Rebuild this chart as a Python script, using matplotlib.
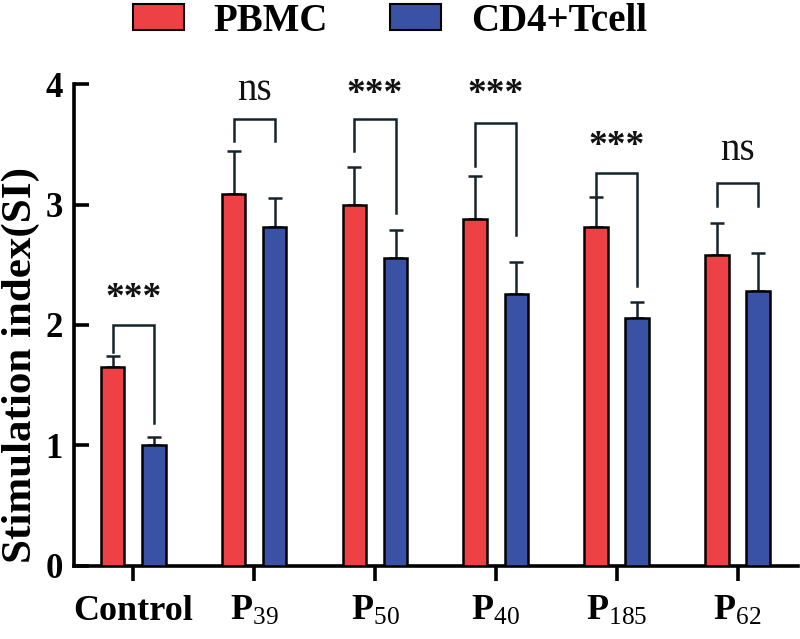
import matplotlib
matplotlib.use("Agg")
import matplotlib.pyplot as plt
import numpy as np
from matplotlib.patches import Patch

plt.rcParams['font.family'] = ['Liberation Serif', 'DejaVu Serif']
plt.rcParams['mathtext.fontset'] = 'custom'
plt.rcParams['mathtext.rm'] = 'Liberation Serif'
plt.rcParams['mathtext.bf'] = 'Liberation Serif:bold'
plt.rcParams['mathtext.it'] = 'Liberation Serif:italic'

# ---- data ----
categories = ['Control', r'$\mathbf{P}_{\mathrm{39}}$', r'$\mathbf{P}_{\mathrm{50}}$',
              r'$\mathbf{P}_{\mathrm{40}}$', r'$\mathbf{P}_{\mathrm{185}}$', r'$\mathbf{P}_{\mathrm{62}}$']
pbmc = [1.65, 3.09, 3.00, 2.88, 2.81, 2.58]
pbmc_err = [0.09, 0.35, 0.31, 0.36, 0.25, 0.27]
cd4 = [1.00, 2.81, 2.56, 2.26, 2.06, 2.28]
cd4_err = [0.07, 0.24, 0.23, 0.26, 0.13, 0.32]
sig_labels = ['***', 'ns', '***', '***', '***', 'ns']
bracket_top = [2.00, 3.71, 3.71, 3.68, 3.26, 3.18]
bracket_left = [1.78, 3.53, 3.44, 3.32, 3.05, 2.99]
bracket_right = [1.19, 3.53, 2.93, 2.75, 2.32, 2.99]
sig_y = [2.22, 3.95, 3.91, 3.91, 3.48, 3.45]
yticks = [0, 1, 2, 3, 4]

red = '#EE4146'
blue = '#3A52A5'
dark = '#15232b'

fig = plt.figure(figsize=(8.0, 6.39), dpi=100)
ax = fig.add_axes([0.0925, 0.1143, 0.905, 0.7542])

x = np.arange(len(categories))
off = 0.17
w = 0.195
ax.bar(x - off, pbmc, w, color=red, edgecolor='black', linewidth=1.8, zorder=3, label='PBMC')
ax.bar(x + off, cd4, w, color=blue, edgecolor='black', linewidth=1.8, zorder=3, label='CD4+Tcell')
ax.errorbar(x - off, pbmc, yerr=[np.zeros(len(pbmc)), pbmc_err], fmt='none',
            ecolor=dark, elinewidth=1.8, capsize=5, capthick=1.8, zorder=2)
ax.errorbar(x + off, cd4, yerr=[np.zeros(len(cd4)), cd4_err], fmt='none',
            ecolor=dark, elinewidth=1.8, capsize=5, capthick=1.8, zorder=2)

for i in range(len(categories)):
    xl, xr = x[i] - off, x[i] + off
    ax.plot([xl, xl, xr, xr], [bracket_left[i], bracket_top[i], bracket_top[i], bracket_right[i]],
            color=dark, lw=1.8, solid_joinstyle='miter', zorder=4)
    if sig_labels[i] == 'ns':
        ax.text(x[i], sig_y[i], 'ns', ha='center', va='center', fontsize=28, color='#111111')
    else:
        ax.text(x[i], sig_y[i], '***', ha='center', va='center', fontsize=27,
                fontweight='bold', color='#111111')

ax.set_xlim(-0.49, 5.5)
ax.set_ylim(0, 4)
ax.set_yticks(yticks)
ax.set_yticklabels([str(t) for t in yticks], fontsize=25, fontweight='bold')
ax.set_xticks(x)
ax.set_xticklabels(categories, fontsize=26, fontweight='bold')
ax.tick_params(axis='both', width=2.6, length=11, color='black')
ax.tick_params(axis='x', direction='out', pad=10)
ax.tick_params(axis='y', direction='in', pad=8)
for s in ['top', 'right']:
    ax.spines[s].set_visible(False)
for s in ['left', 'bottom']:
    ax.spines[s].set_linewidth(2.6)

fig.text(21 / 800, 1 - 365 / 639, 'Stimulation index(SI)', rotation=90, ha='center', va='center',
         fontsize=31, fontweight='bold')

handles = [Patch(facecolor=red, edgecolor='black', linewidth=1.5, label='PBMC'),
           Patch(facecolor=blue, edgecolor='black', linewidth=1.5, label='CD4+Tcell')]
fig.legend(handles=handles, loc='center', bbox_to_anchor=(0.4875, 0.967), ncol=2,
           frameon=False, prop={'family': 'Liberation Serif', 'weight': 'bold', 'size': 28},
           handlelength=1.31, handleheight=0.64, columnspacing=1.6, handletextpad=0.77,
           borderpad=0.1)

fig.savefig('out.png', dpi=100)
